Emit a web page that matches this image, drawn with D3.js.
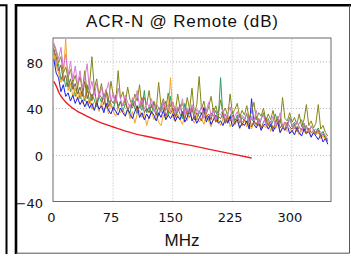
<!DOCTYPE html>
<html><head><meta charset="utf-8">
<script src="https://cdn.jsdelivr.net/npm/d3@7"></script>
<style>html,body{margin:0;padding:0;background:#fff;}svg{display:block;}</style>
</head><body>
<svg id="c" width="351" height="256"></svg>
<script>
const freq = [1,4,7,10,13,16,19,22,25,28, 31,34,37,40,43,46,49,52,55,58, 61,64,67,70,73,76,79,82,85,88, 91,94,97,100,103,106,109,112,115,118, 121,124,127,130,133,136,139,142,145,148, 151,154,157,160,163,166,169,172,175,178, 181,184,187,190,193,196,199,202,205,208, 211,214,217,220,223,226,229,232,235,238, 241,244,247,250,253,256,259,262,265,268, 271,274,277,280,283,286,289,292,295,298, 301,304,307,310,313,316,319,322,325,328, 331,334,337,340,343,346];
const blueVals = [82,70,66,54,60,50,53,46,51,44, 49,43,47,41,46,40,44,38,45,39, 42,36,44,38,35,41,37,34,40,36, 33,39,35,31,37,42,32,36,30,35, 31,37,34,29,36,32,38,30,34,31, 35,29,33,30,37,28,32,40,29,33, 27,31,35,40,28,33,26,30,34,27, 29,25,31,27,33,24,28,30,23,27, 25,29,22,48,26,23,28,21,25,27, 22,26,20,24,28,19,23,21,25,18, 21,17,23,19,16,22,18,20,15,19, 16,13,17,11,14,9];
const greenVals = [91,76,78,64,70,58,66,54,62,50, 58,48,55,46,60,44,52,47,41,50, 45,52,40,47,43,38,49,42,46,37, 44,39,36,47,40,35,43,38,55,36, 41,35,45,37,33,42,38,46,34,50, 37,33,40,35,31,44,36,32,39,34, 30,38,34,41,32,29,36,33,38,30, 66,31,35,28,33,37,29,34,27,32, 29,35,26,31,28,33,25,30,36,27, 31,24,29,35,26,30,23,28,25,32, 24,28,22,27,30,21,25,19,24,22, 19,23,17,20,15,13];
const oliveVals = [94,88,79,84,70,75,66,73,62,68, 58,67,55,72,53,60,84,57,65,51, 61,49,56,47,63,50,45,72,48,54, 44,58,47,42,52,46,60,41,49,43, 55,40,46,39,62,42,48,38,53,41, 45,37,52,40,44,36,49,39,57,35, 43,67,39,46,35,41,50,37,42,34, 47,36,40,33,52,35,39,44,32,38, 34,42,31,37,45,30,36,33,40,29, 35,30,38,28,33,27,49,31,29,36, 28,32,26,35,24,30,43,25,29,23, 27,43,22,25,19,16];
const brownVals = [90,84,72,77,63,68,58,65,56,61, 52,58,50,63,48,55,46,57,44,52, 49,43,54,41,47,44,51,40,45,42, 48,38,43,40,46,37,41,49,36,40, 36,43,39,34,41,37,45,33,38,35, 40,32,37,43,34,31,38,35,41,30, 36,33,29,38,32,35,30,40,28,33, 31,36,27,32,29,34,26,31,35,25, 30,27,33,24,29,26,31,23,28,32, 25,29,22,27,31,23,26,21,28,24, 22,26,20,24,21,27,18,23,19,21, 18,21,16,18,14,12];
const orangeVals = [87,76,70,62,67,99,55,61,50,57, 47,54,44,50,42,49,39,46,43,37, 45,38,42,35,44,37,33,41,36,39, 34,40,31,37,27,35,38,32,36,25, 33,37,30,35,28,25,34,31,37,66, 32,28,35,30,26,34,29,37,31,27, 33,28,31,26,35,29,24,32,28,30, 25,31,27,34,24,29,26,31,22,28, 30,24,27,22,29,25,31,21,26,23, 28,20,25,22,27,19,24,26,20,23, 19,24,21,17,23,20,18,22,16,20, 17,20,14,16,13,11];
const violetVals = [96,90,82,92,74,86,68,80,64,76, 60,72,57,66,78,54,63,51,61,49, 58,47,55,62,46,53,44,57,48,42, 51,45,40,49,43,55,41,47,39,45, 41,48,37,44,40,36,46,39,43,37, 45,35,41,38,48,34,40,36,43,33, 39,35,42,31,37,45,33,38,30,36, 34,39,30,35,41,29,33,37,28,34, 31,36,27,33,29,38,26,31,34,25, 30,27,33,24,29,36,25,28,23,31, 26,22,29,24,20,27,23,19,25,21, 22,18,20,16,17,13];
const limitFreq = [1,4,8,10,16,20,25,31.25,40,50,62.5,75,100,125,150,175,200,225,250];
const limitVals = [62.9,59.0,52.5,50.3,45.2,42.6,39.9,37.0,34.0,30.6,26.9,24.0,18.6,14.8,11.1,7.8,4.2,0.8,-2.8];
const xTicks = [0,75,150,225,300];
const yTicks = [-40,0,40,80];
const titleText = "ACR-N @ Remote (dB)";
const xLabel = "MHz";

const seriesList = [
  {vals: greenVals, color: "#2e9a66"},
  {vals: orangeVals, color: "#f5a41c"},
  {vals: blueVals, color: "#1c1ce6"},
  {vals: brownVals, color: "#9a5a2a"},
  {vals: oliveVals, color: "#858516"},
  {vals: violetVals, color: "#d878d6"}
];

const svg = d3.select("#c");
svg.append("path").attr("d","M0,5.3H6.5V254").attr("fill","none").attr("stroke","#000").attr("stroke-width",2);
svg.append("path").attr("d","M16,254V5.3H351").attr("fill","none").attr("stroke","#000").attr("stroke-width",2.6);
svg.append("path").attr("d","M16,253.2H349.5V5").attr("fill","none").attr("stroke","#555").attr("stroke-width",1);

const L = 53, R = 331, T = 38, B = 201.5;
const x = d3.scaleLinear().domain([0,350]).range([L,R]);
const y = d3.scaleLinear().domain([-40,100]).range([B,T]);

const gx = svg.append("g").attr("transform",`translate(0,${B})`)
  .call(d3.axisBottom(x).tickValues(xTicks.slice(1)).tickSize(-(B-T)).tickFormat(""));
const gy = svg.append("g").attr("transform",`translate(${L},0)`)
  .call(d3.axisLeft(y).tickValues([0,40,80]).tickSize(-(R-L)).tickFormat(""));
[gx,gy].forEach(g=>{
  g.select(".domain").remove();
  g.selectAll("line").attr("stroke","#b8b8b8").attr("stroke-width",1).attr("stroke-dasharray","1,2");
});

svg.append("clipPath").attr("id","clip").append("rect").attr("x",L).attr("y",T).attr("width",R-L).attr("height",B-T);

const line = d3.line().x((d,i)=>x(freq[i])).y(d=>y(d));
const gl = svg.append("g").attr("clip-path","url(#clip)");
seriesList.forEach(s=>{
  gl.append("path").datum(s.vals).attr("d",line).attr("fill","none")
    .attr("stroke",s.color).attr("stroke-width",1).attr("stroke-linejoin","round");
});
const lline = d3.line().curve(d3.curveMonotoneX).x((d,i)=>x(limitFreq[i])).y(d=>y(d));
gl.append("path").datum(limitVals).attr("d",lline).attr("fill","none").attr("stroke","#ee1d23").attr("stroke-width",1.4);

svg.append("rect").attr("x",L).attr("y",T).attr("width",R-L).attr("height",B-T)
  .attr("fill","none").attr("stroke","#6a6a6a").attr("stroke-width",1);

const ax = svg.append("g").attr("transform",`translate(0,${B})`)
  .call(d3.axisBottom(x).tickValues(xTicks).tickSize(0).tickPadding(11.3));
const ay = svg.append("g").attr("transform",`translate(${L},0)`)
  .call(d3.axisLeft(y).tickValues(yTicks).tickSize(0).tickPadding(10));
[ax,ay].forEach(g=>{
  g.select(".domain").remove();
  g.selectAll("text").attr("font-family","DejaVu Sans").attr("font-size",13).attr("fill","#111");
});
ax.selectAll("text").attr("dx",-2);
ay.selectAll("text").attr("dy","0.44em");

svg.append("text").attr("x",182).attr("y",27.3).attr("text-anchor","middle")
  .attr("font-family","Liberation Sans, Arial").attr("font-size",17).attr("fill","#111")
  .attr("textLength",192).attr("lengthAdjust","spacing").text(titleText);
svg.append("text").attr("x",182).attr("y",246).attr("text-anchor","middle")
  .attr("font-family","Liberation Sans, Arial").attr("font-size",17).attr("fill","#111")
  .text(xLabel);
</script>
</body></html>
